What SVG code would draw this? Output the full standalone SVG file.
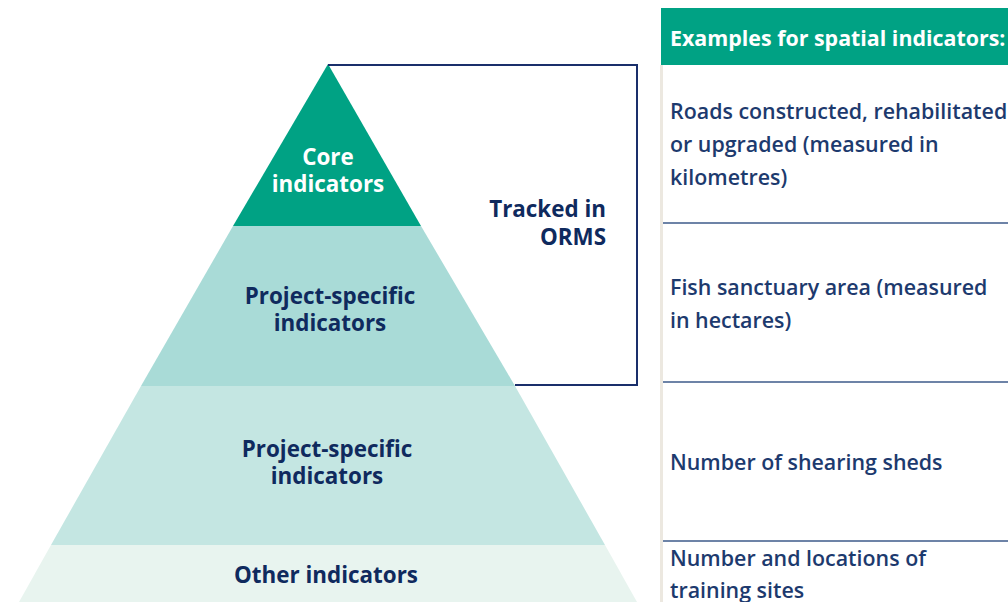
<svg xmlns="http://www.w3.org/2000/svg" width="1008" height="602" viewBox="0 0 1008 602">
<style>
.lbl{font-family:"Open Sans","Noto Sans","Liberation Sans",sans-serif;font-weight:700;font-size:22.4px;fill:#0f2a5e;text-anchor:middle}
.cell{font-family:"Open Sans","Noto Sans","Liberation Sans",sans-serif;font-weight:600;font-size:21.4px;fill:#1d3a6e}
.sep{stroke:#3d5a8a;stroke-width:1.5}
</style>
<rect width="1008" height="602" fill="#ffffff"/>
<g id="tier-other"><polygon points="51,545 605,545 637,602 19,602" fill="#e8f4ef"/><text class="lbl" x="326" y="583">Other indicators</text></g>
<g id="tier-project2"><polygon points="141,386 515,386 605,545 51,545" fill="#c4e6e2"/><text class="lbl" x="327" y="457">Project-specific</text><text class="lbl" x="327" y="484">indicators</text></g>
<g id="tier-project1"><polygon points="233,226 421,226 515,386 141,386" fill="#a9dbd7"/><text class="lbl" x="330" y="304">Project-specific</text><text class="lbl" x="330" y="331">indicators</text></g>
<g id="tier-core"><polygon points="328,64 421,226 233,226" fill="#00a284"/><text class="lbl" x="328" y="165" style="fill:#ffffff">Core</text><text class="lbl" x="328" y="192" style="fill:#ffffff">indicators</text></g>
<g id="connectors"><polyline points="328,65 637,65 637,385 515,385" fill="none" stroke="#1a2f6b" stroke-width="2"/></g>
<g id="orms-label"><text class="lbl" x="606" y="217" style="text-anchor:end">Tracked in</text><text class="lbl" x="606" y="245" style="text-anchor:end">ORMS</text></g>
<g id="table">
<rect x="661" y="8" width="347" height="57" fill="#00a284"/>
<text x="670" y="46" style="font-family:'Open Sans','Noto Sans','Liberation Sans',sans-serif;font-weight:700;font-size:21.4px;fill:#ffffff">Examples for spatial indicators:</text>
<line x1="661.5" y1="65" x2="661.5" y2="602" stroke="#ece8e0" stroke-width="3"/>
<line class="sep" x1="663" y1="223" x2="1008" y2="223"/>
<line class="sep" x1="663" y1="382" x2="1008" y2="382"/>
<line class="sep" x1="663" y1="541" x2="1008" y2="541"/>
<text class="cell" x="670" y="119">Roads constructed, rehabilitated</text>
<text class="cell" x="670" y="152">or upgraded (measured in</text>
<text class="cell" x="670" y="185">kilometres)</text>
<text class="cell" x="670" y="295">Fish sanctuary area (measured</text>
<text class="cell" x="670" y="328">in hectares)</text>
<text class="cell" x="670" y="470">Number of shearing sheds</text>
<text class="cell" x="670" y="566">Number and locations of</text>
<text class="cell" x="670" y="598">training sites</text>
</g>
</svg>
